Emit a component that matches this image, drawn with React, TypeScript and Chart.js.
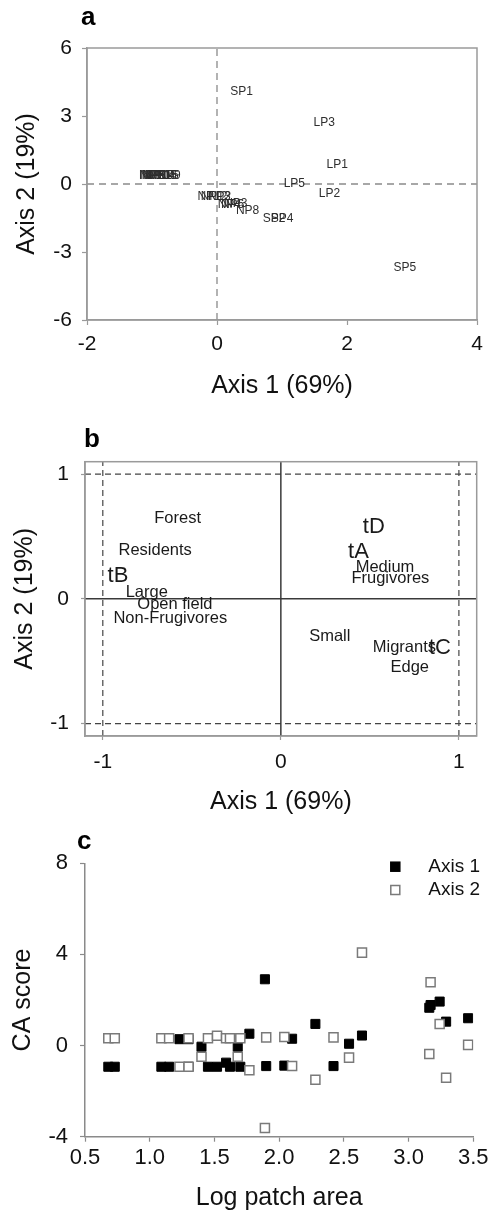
import React, { useEffect, useRef } from "react";
import { Chart, registerables } from "chart.js";

Chart.register(...registerables);

const FONT = "'Liberation Sans', Arial, Helvetica, sans-serif";

// ---------- Panel a: site scores on CA axes ----------
const siteNames = ["SP1", "LP3", "LP1", "LP5", "LP2", "SP5", "SP2", "SP4", "NP8", "NP12", "NP13", "NP2", "NP4", "NP6", "NP3", "NP1", "NP5", "NP10", "NP11", "NP14", "NP15", "NP16", "NP9"];
const siteAxis1 = [0.38, 1.65, 1.85, 1.19, 1.73, 2.89, 0.88, 1.0, 0.47, -0.07, -0.02, 0.04, 0.19, 0.24, 0.29, -1.02, -0.98, -0.95, -0.92, -0.88, -0.85, -0.82, -0.74];
const siteAxis2 = [4.06, 2.7, 0.87, 0.0, -0.43, -3.69, -1.55, -1.55, -1.17, -0.55, -0.55, -0.57, -0.9, -0.9, -0.88, 0.35, 0.35, 0.35, 0.35, 0.35, 0.35, 0.35, 0.35];
const aXRange = [-2, 4];
const aYRange = [-6, 6];
const aXStep = 2;
const aYStep = 3;

// ---------- Panel b: species traits ----------
const traitNames = ["Forest", "Residents", "tB", "Large", "Open field", "Non-Frugivores", "tD", "tA", "Medium", "Frugivores", "Small", "Migrants", "tC", "Edge"];
const traitAxis1 = [-0.58, -0.706, -0.915, -0.753, -0.595, -0.621, 0.522, 0.436, 0.585, 0.615, 0.275, 0.694, 0.893, 0.724];
const traitAxis2 = [0.647, 0.387, 0.187, 0.05, -0.043, -0.155, 0.575, 0.379, 0.251, 0.166, -0.302, -0.387, -0.395, -0.551];
const bRange = [-1.1, 1.1];
const bRefLines = [-1, 1];

// ---------- Panel c: CA scores vs log patch area ----------
const logPatchArea = [0.68, 0.73, 1.09, 1.15, 1.23, 1.3, 1.3, 1.4, 1.45, 1.52, 1.59, 1.62, 1.68, 1.7, 1.77, 1.89, 1.9, 2.04, 2.1, 2.28, 2.42, 2.54, 2.64, 3.16, 3.17, 3.24, 3.29, 3.46];
const caAxis1 = [-0.93, -0.93, -0.93, -0.93, 0.28, -0.93, 0.28, -0.05, -0.93, -0.93, -0.75, -0.93, -0.05, -0.93, 0.52, 2.91, -0.9, -0.88, 0.3, 0.95, -0.9, 0.08, 0.44, 1.66, 1.78, 1.93, 1.05, 1.2];
const caAxis2 = [0.32, 0.32, 0.32, 0.32, -0.93, 0.32, -0.93, -0.49, 0.32, 0.43, 0.32, 0.32, -0.49, 0.32, -1.08, -3.62, 0.36, 0.38, -0.9, -1.5, 0.36, -0.53, 4.08, -0.37, 2.78, 0.95, -1.41, 0.03];
const cXRange = [0.5, 3.5];
const cYRange = [-4, 8];
const cXStep = 0.5;
const cYStep = 4;
const seriesNames = ["Axis 1", "Axis 2"];

const W = 493;

function zeroPad(s: any) {
  s.paddingLeft = 0;
  s.paddingRight = 0;
  s.paddingTop = 0;
  s.paddingBottom = 0;
}

function labelPlugin(datasetIndex: number, names: string[], fontFor: (n: string) => string, color: string) {
  return {
    id: "labels" + datasetIndex,
    afterDatasetsDraw(chart: any) {
      const meta = chart.getDatasetMeta(datasetIndex);
      const ctx = chart.ctx;
      ctx.save();
      ctx.fillStyle = color;
      ctx.textAlign = "center";
      ctx.textBaseline = "middle";
      meta.data.forEach((pt: any, i: number) => {
        ctx.font = fontFor(names[i]);
        ctx.fillText(names[i], pt.x, pt.y);
      });
      ctx.restore();
    },
  };
}

function framePlugin(letter: string, lx: number, ly: number, frame: boolean) {
  return {
    id: "frame" + letter,
    afterDraw(chart: any) {
      const { ctx, chartArea: ca } = chart;
      ctx.save();
      if (frame) {
        ctx.strokeStyle = "#9a9a9a";
        ctx.lineWidth = 1.5;
        ctx.strokeRect(ca.left, ca.top, ca.right - ca.left, ca.bottom - ca.top);
      }
      ctx.fillStyle = "#000";
      ctx.font = `bold 26px ${FONT}`;
      ctx.textAlign = "left";
      ctx.textBaseline = "alphabetic";
      ctx.fillText(letter, lx, ly);
      ctx.restore();
    },
  };
}

function axisCommon(opts: {
  min: number;
  max: number;
  step: number;
  title: string;
  titlePad: any;
  tickPad: number;
  tickSize: number;
  tickLen: number;
  fit: (s: any) => void;
  fmt?: (v: number) => string;
  borderColor: string;
}) {
  return {
    type: "linear",
    min: opts.min,
    max: opts.max,
    ticks: {
      stepSize: opts.step,
      autoSkip: false,
      includeBounds: false,
      padding: opts.tickPad,
      color: "#111",
      font: { family: FONT, size: opts.tickSize },
      callback: opts.fmt ? (v: any) => opts.fmt!(Number(v)) : (v: any) => String(Math.round(Number(v) * 100) / 100),
    },
    grid: {
      drawOnChartArea: false,
      drawTicks: true,
      tickLength: opts.tickLen,
      tickColor: opts.borderColor,
      tickWidth: 1.2,
      color: opts.borderColor,
    },
    border: { display: true, color: opts.borderColor, width: 1.5 },
    title: {
      display: true,
      text: opts.title,
      color: "#111",
      font: { family: FONT, size: 25 },
      padding: opts.titlePad,
    },
    afterFit: opts.fit,
  };
}

const baseOptions = (padding: any) => ({
  responsive: false,
  maintainAspectRatio: false,
  animation: false,
  devicePixelRatio: 1,
  events: [],
  layout: { padding, autoPadding: false },
  plugins: { legend: { display: false }, tooltip: { enabled: false }, title: { display: false } },
});

function buildA(): any {
  const H = 405;
  return {
    type: "scatter",
    data: {
      datasets: [
        {
          data: [{ x: 0, y: aYRange[0] }, { x: 0, y: aYRange[1] }],
          showLine: true,
          borderColor: "#8a8a8a",
          borderWidth: 1.3,
          borderDash: [7, 5],
          pointRadius: 0,
        },
        {
          data: [{ x: aXRange[0], y: 0 }, { x: aXRange[1], y: 0 }],
          showLine: true,
          borderColor: "#8a8a8a",
          borderWidth: 1.3,
          borderDash: [7, 5],
          pointRadius: 0,
        },
        {
          data: siteNames.map((_, i) => ({ x: siteAxis1[i], y: siteAxis2[i] })),
          pointRadius: 0,
          showLine: false,
        },
      ],
    },
    options: {
      ...baseOptions({ left: 0, right: 16, top: 48, bottom: 0 }),
      scales: {
        x: axisCommon({
          min: aXRange[0], max: aXRange[1], step: aXStep, title: "Axis 1 (69%)",
          titlePad: { top: 0, bottom: 4 }, tickPad: 7, tickSize: 21, tickLen: 5,
          borderColor: "#9a9a9a",
          fit: (s: any) => { s.height = H - 320; zeroPad(s); },
        }),
        y: axisCommon({
          min: aYRange[0], max: aYRange[1], step: aYStep, title: "Axis 2 (19%)",
          titlePad: { top: 12, bottom: 0 }, tickPad: 10, tickSize: 21, tickLen: 5,
          borderColor: "#9a9a9a",
          fit: (s: any) => { s.width = 87; zeroPad(s); },
        }),
      },
    },
    plugins: [
      labelPlugin(2, siteNames, () => `12px ${FONT}`, "#2e2e2e"),
      framePlugin("a", 81, 25, true),
    ],
  };
}

function buildB(): any {
  const H = 415;
  const solid = { showLine: true, borderColor: "#3a3a3a", borderWidth: 1.5, pointRadius: 0 };
  const dashed = { showLine: true, borderColor: "#444", borderWidth: 1.2, borderDash: [6, 4], pointRadius: 0 };
  return {
    type: "scatter",
    data: {
      datasets: [
        { ...solid, data: [{ x: 0, y: bRange[0] }, { x: 0, y: bRange[1] }] },
        { ...solid, data: [{ x: bRange[0], y: 0 }, { x: bRange[1], y: 0 }] },
        ...bRefLines.map((v) => ({ ...dashed, data: [{ x: v, y: bRange[0] }, { x: v, y: bRange[1] }] })),
        ...bRefLines.map((v) => ({ ...dashed, data: [{ x: bRange[0], y: v }, { x: bRange[1], y: v }] })),
        {
          data: traitNames.map((_, i) => ({ x: traitAxis1[i], y: traitAxis2[i] })),
          pointRadius: 0,
          showLine: false,
        },
      ],
    },
    options: {
      ...baseOptions({ left: 0, right: 16.3, top: 56.7, bottom: 0 }),
      scales: {
        x: axisCommon({
          min: bRange[0], max: bRange[1], step: 1, title: "Axis 1 (69%)",
          titlePad: { top: 0, bottom: 3 }, tickPad: 10, tickSize: 21, tickLen: 4,
          borderColor: "#9a9a9a",
          fit: (s: any) => { s.height = H - 331; zeroPad(s); },
        }),
        y: axisCommon({
          min: bRange[0], max: bRange[1], step: 1, title: "Axis 2 (19%)",
          titlePad: { top: 10, bottom: 0 }, tickPad: 12, tickSize: 21, tickLen: 4,
          borderColor: "#9a9a9a",
          fit: (s: any) => { s.width = 85; zeroPad(s); },
        }),
      },
    },
    plugins: [
      labelPlugin(6, traitNames, (n) => (/^t[A-Z]$/.test(n) ? `22px ${FONT}` : `16.5px ${FONT}`), "#1a1a1a"),
      framePlugin("b", 84, 41.7, true),
    ],
  };
}

function legendPlugin() {
  return {
    id: "legendC",
    afterDraw(chart: any) {
      const { ctx, chartArea: ca } = chart;
      const sq = 9;
      const items = [
        { fill: "#000", stroke: "#000", y: ca.top + 3.4 },
        { fill: "#fff", stroke: "#7a7a7a", y: ca.top + 26.7 },
      ];
      ctx.save();
      items.forEach((it, i) => {
        const cx = ca.right - 78;
        ctx.fillStyle = it.fill;
        ctx.strokeStyle = it.stroke;
        ctx.lineWidth = 1.5;
        ctx.fillRect(cx - sq / 2, it.y - sq / 2, sq, sq);
        ctx.strokeRect(cx - sq / 2, it.y - sq / 2, sq, sq);
        ctx.fillStyle = "#111";
        ctx.font = `19px ${FONT}`;
        ctx.textAlign = "left";
        ctx.textBaseline = "middle";
        ctx.fillText(seriesNames[i], ca.right - 45, it.y);
      });
      ctx.restore();
    },
  };
}

function buildC(): any {
  const H = 399;
  return {
    type: "scatter",
    data: {
      datasets: [
        {
          label: seriesNames[0],
          data: logPatchArea.map((x, i) => ({ x, y: caAxis1[i] })),
          pointStyle: "rect",
          pointRadius: 6.4,
          backgroundColor: "#000",
          borderColor: "#000",
          borderWidth: 1,
          order: 2,
        },
        {
          label: seriesNames[1],
          data: logPatchArea.map((x, i) => ({ x, y: caAxis2[i] })),
          pointStyle: "rect",
          pointRadius: 6.4,
          backgroundColor: "#fff",
          borderColor: "#7a7a7a",
          borderWidth: 1.5,
          order: 1,
        },
      ],
    },
    options: {
      ...baseOptions({ left: 0, right: 19.7, top: 43.3, bottom: 0 }),
      scales: {
        x: axisCommon({
          min: cXRange[0], max: cXRange[1], step: cXStep, title: "Log patch area",
          titlePad: { top: 0, bottom: 6 }, tickPad: 3, tickSize: 22, tickLen: 5,
          borderColor: "#8a8a8a",
          fmt: (v) => v.toFixed(1),
          fit: (s: any) => { s.height = H - 316.7; zeroPad(s); },
        }),
        y: axisCommon({
          min: cYRange[0], max: cYRange[1], step: cYStep, title: "CA score",
          titlePad: { top: 8, bottom: 0 }, tickPad: 12, tickSize: 22, tickLen: 5,
          borderColor: "#8a8a8a",
          fit: (s: any) => { s.width = 85; zeroPad(s); },
        }),
      },
    },
    plugins: [legendPlugin(), framePlugin("c", 77, 29, false)],
  };
}

function Panel({ build, top, height }: { build: () => any; top: number; height: number }) {
  const ref = useRef<HTMLCanvasElement>(null);
  useEffect(() => {
    const chart = new Chart(ref.current as HTMLCanvasElement, build());
    return () => chart.destroy();
  }, []);
  return (
    <canvas
      ref={ref}
      width={W}
      height={height}
      style={{ position: "absolute", left: 0, top, width: W, height, display: "block" }}
    />
  );
}

export default function App() {
  return (
    <div style={{ position: "absolute", left: 0, top: 0, width: W, height: 1219, background: "#fff", overflow: "hidden" }}>
      <Panel build={buildA} top={0} height={405} />
      <Panel build={buildB} top={405} height={415} />
      <Panel build={buildC} top={820} height={399} />
    </div>
  );
}
